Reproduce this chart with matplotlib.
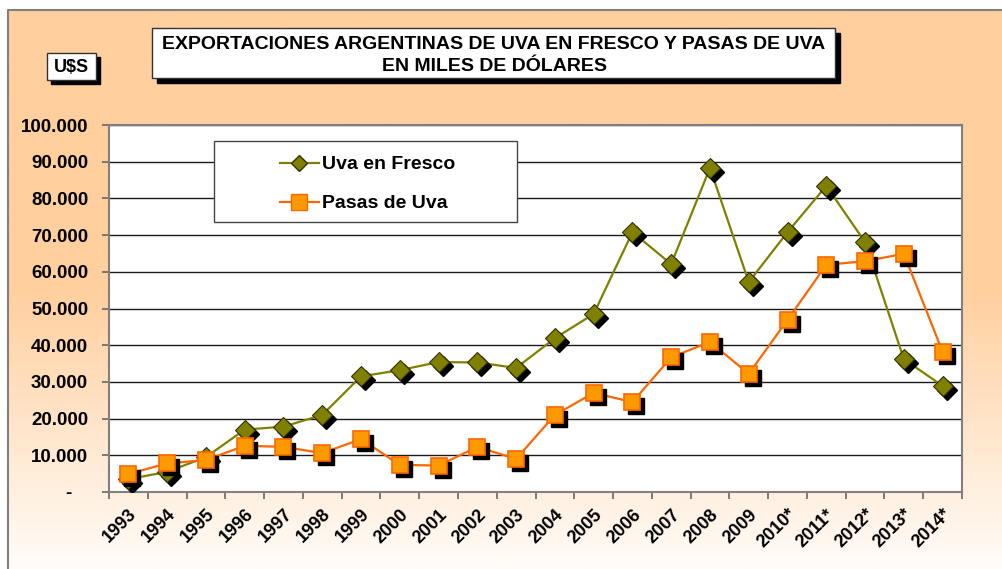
import numpy as np
import matplotlib
matplotlib.use("Agg")
from matplotlib import pyplot as plt
from matplotlib.patches import Rectangle
from matplotlib.lines import Line2D
from matplotlib.ticker import FuncFormatter, MultipleLocator
from matplotlib.transforms import offset_copy
from matplotlib.colors import LinearSegmentedColormap

years = ["1993", "1994", "1995", "1996", "1997", "1998", "1999", "2000", "2001", "2002", "2003",
         "2004", "2005", "2006", "2007", "2008", "2009", "2010*", "2011*", "2012*", "2013*", "2014*"]
uva_fresco = [3500, 5500, 9500, 17000, 17800, 21000, 31500, 33200, 35400, 35300, 33800,
              41900, 48500, 70800, 62100, 88300, 57200, 70800, 83400, 68100, 36200, 28900]
pasas_uva = [4900, 7800, 8700, 12600, 12300, 10600, 14400, 7400, 7200, 12300, 9000,
             21000, 27000, 24500, 36700, 40900, 32200, 46900, 61900, 62900, 64900, 38200]

W, H = 1002, 569
plt.rcParams['font.family'] = ['Liberation Sans', 'DejaVu Sans']
plt.rcParams['font.weight'] = 'bold'

fig = plt.figure(figsize=(W / 100, H / 100), dpi=100)
fig.patch.set_facecolor('white')


def fx(x):
    return x / W


def fy(y):
    return 1 - y / H


# background with vertical gradient
bg = fig.add_axes([0, 0, 1, 1], zorder=-10)
bg.set_xlim(0, W)
bg.set_ylim(H, 0)
bg.axis('off')
cmap = LinearSegmentedColormap.from_list('peach', ['#FFCF9E', '#FFCF9E', '#FFFCF9'])
grad = np.linspace(0, 1, 256).reshape(-1, 1)
bg.imshow(grad, cmap=cmap, extent=(8, W + 5, H, 10), aspect='auto', zorder=0)
bg.plot([8, 8, W + 5], [H + 5, 10, 10], color='#808080', lw=1.5, zorder=1)

# title box with shadow
bg.add_patch(Rectangle((157, 33), 683, 50, facecolor='black', edgecolor='black', zorder=2))
bg.add_patch(Rectangle((152, 28), 683, 50, facecolor='white', edgecolor='#333333', lw=1, zorder=3))
bg.text(494, 44, "EXPORTACIONES ARGENTINAS DE UVA EN FRESCO Y PASAS DE UVA",
        ha='center', va='center', fontsize=14, fontweight='bold', zorder=4)
bg.text(495, 66, "EN MILES DE DÓLARES", ha='center', va='center', fontsize=14,
        fontweight='bold', zorder=4)

# U$S box
bg.add_patch(Rectangle((51, 57), 49, 27, facecolor='black', edgecolor='black', zorder=2))
bg.add_patch(Rectangle((47, 53), 49, 27, facecolor='white', edgecolor='#333333', lw=1, zorder=3))
bg.text(71.5, 67, "U$S", ha='center', va='center', fontsize=13, fontweight='bold', zorder=4)

# main plot
ax = fig.add_axes([fx(109), fy(492), fx(962 - 109), (492 - 125) / H])
ax.set_facecolor('white')
x = np.arange(len(years))

ax.set_xlim(-0.5, len(years) - 0.5)
ax.set_ylim(0, 100000)
ax.yaxis.set_major_locator(MultipleLocator(10000))
ax.yaxis.set_major_formatter(FuncFormatter(
    lambda v, p: "-   " if v == 0 else f"{v:,.0f}".replace(",", ".")))
ax.grid(axis='y', color='#1a1a1a', lw=1)
ax.set_axisbelow(True)

ax.set_xticks(x)
ax.set_xticklabels(years, rotation=45, ha='right', rotation_mode='anchor', fontsize=13,
                   fontweight='bold')
ax.set_xticks(np.arange(-0.5, len(years)), minor=True)
ax.tick_params(axis='x', which='major', length=0, pad=10)
ax.tick_params(axis='x', which='minor', length=5, color='#666666', width=1.2)
ax.tick_params(axis='y', length=5, color='#666666', width=1.2, labelsize=13.5, pad=10)
for lab in ax.get_yticklabels():
    lab.set_fontweight('bold')
for sp in ax.spines.values():
    sp.set_color('#808080')
    sp.set_linewidth(1.5)

shadow = offset_copy(ax.transData, fig=fig, x=4, y=-4, units='dots')

ax.plot(x, uva_fresco, color='#808000', lw=1.6, zorder=3)
ax.plot(x, uva_fresco, ls='none', marker='D', ms=10, color='black', transform=shadow, zorder=3.1)
ax.plot(x, uva_fresco, ls='none', marker='D', ms=10, mfc='#808000', mec='#333300', mew=0.8, zorder=3.2)

ax.plot(x, pasas_uva, color='#FF6600', lw=1.6, zorder=4)
ax.plot(x, pasas_uva, ls='none', marker='s', ms=12, color='black', transform=shadow, zorder=4.1)
ax.plot(x, pasas_uva, ls='none', marker='s', ms=12, mfc='#FF9900', mec='#FF6600', mew=1.2, zorder=4.2)

# legend
ax.add_patch(Rectangle((fx(214), fy(222)), fx(517 - 214), (222 - 141) / H,
                       transform=fig.transFigure, facecolor='white', edgecolor='#444444',
                       lw=1, zorder=5))
handles = [
    Line2D([], [], color='#808000', lw=1.6, marker='D', ms=8, mfc='#808000', mec='#333300'),
    Line2D([], [], color='#FF6600', lw=1.6, marker='s', ms=11, mfc='#FF9900', mec='#FF6600'),
]
leg = ax.legend(handles, ["Uva en Fresco", "Pasas de Uva"], loc='upper left',
                bbox_to_anchor=(fx(270), fy(146)), bbox_transform=fig.transFigure,
                frameon=False, borderpad=0, handlelength=2.0, handletextpad=0.2,
                labelspacing=1.1, prop={'size': 14, 'weight': 'bold'})
leg.set_zorder(6)

fig.savefig("out.png", dpi=100, facecolor=fig.get_facecolor())
